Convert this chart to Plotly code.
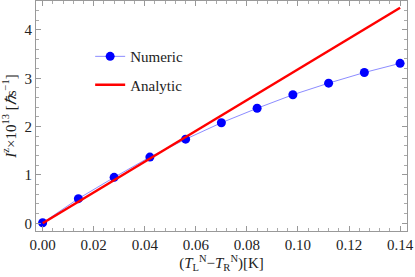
import plotly.graph_objects as go

x_numeric = [0.0, 0.014, 0.028, 0.042, 0.056, 0.070, 0.084, 0.098, 0.112, 0.126, 0.140]
y_numeric = [0.01, 0.51, 0.95, 1.37, 1.74, 2.08, 2.38, 2.66, 2.90, 3.12, 3.31]
x_analytic = [0.0, 0.14]
y_analytic = [0.0, 4.46]
x_ticks = [0.0, 0.02, 0.04, 0.06, 0.08, 0.10, 0.12, 0.14]
x_ticklabels = ["0.00", "0.02", "0.04", "0.06", "0.08", "0.10", "0.12", "0.14"]
y_ticks = [0, 1, 2, 3, 4]

FONT = "Liberation Serif"
fig = go.Figure()
fig.add_trace(go.Scatter(x=x_numeric, y=y_numeric, mode="lines+markers", name="Numeric",
                         legendgroup="a",
                         line=dict(color="#8c8cff", width=1),
                         marker=dict(color="#0000ff", size=9)))
fig.add_trace(go.Scatter(x=x_analytic, y=y_analytic, mode="lines", name="Analytic",
                         legendgroup="b",
                         line=dict(color="#ff0000", width=2.5)))

axis_common = dict(showgrid=False, zeroline=False, showline=True, linecolor="#999999", linewidth=1,
                   mirror="allticks", ticks="inside", ticklen=5, tickcolor="#999999",
                   automargin=False,
                   tickfont=dict(family=FONT, size=15, color="#222222"))
fig.update_xaxes(range=[-0.0026, 0.1427], tickvals=x_ticks, ticktext=x_ticklabels,
                 minor=dict(ticks="inside", dtick=0.004, ticklen=3, tickcolor="#aaaaaa"),
                 title=dict(text="(<i>T</i><sub>L</sub><sup>N</sup>−<i>T</i><sub>R</sub><sup>N</sup>)[K]",
                            font=dict(family=FONT, size=15, color="#222222"), standoff=4),
                 **axis_common)
fig.update_yaxes(range=[-0.16, 4.6], tickvals=y_ticks,
                 minor=dict(ticks="inside", dtick=0.2, ticklen=3, tickcolor="#aaaaaa"),
                 title=dict(text="<i>I</i><sup>z</sup>×10<sup>13</sup> [<i>ℏ</i>s<sup>−1</sup>]",
                            font=dict(family=FONT, size=15, color="#222222"), standoff=4),
                 **axis_common)
fig.update_layout(width=415, height=277, margin=dict(l=36, r=8, t=1, b=46),
                  plot_bgcolor="white", paper_bgcolor="white",
                  legend=dict(x=0.146, y=0.83, xanchor="left", yanchor="top",
                              traceorder="grouped", tracegroupgap=6,
                              bgcolor="rgba(0,0,0,0)", font=dict(family=FONT, size=15, color="#222222"),
                              itemwidth=30))
fig.write_html("out.html", config={"displayModeBar": False},
               post_script="document.body.style.margin='0';")
